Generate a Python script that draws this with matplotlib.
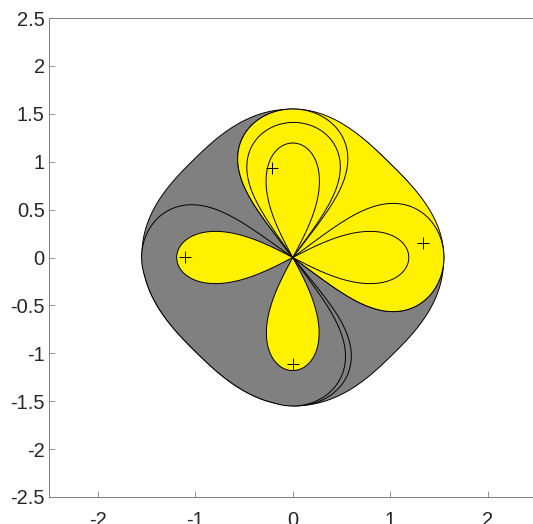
import numpy as np
import matplotlib
matplotlib.use('Agg')
import matplotlib.pyplot as plt

plt.rcParams['font.family'] = ['Liberation Sans', 'DejaVu Sans']
plt.rcParams['axes.unicode_minus'] = False

# === Lobes: direction (deg), length, half-angle at origin (deg), shape exponent ===
big_dir = [90, 0, 180, 270]
big_len = [1.55, 1.55, 1.55, 1.55]
big_half = [37, 37, 36, 36]
big_exp = [0.30, 0.30, 0.30, 0.32]

down_outer = [272, 1.55, 37, 0.30]      # gray lobe peeking on the right of the down side
up_mid = [89.5, 1.41, 35, 0.32]         # middle upper lobe

inner_dir = [90, 0, 180, 270]
inner_len = [1.195, 1.19, 1.19, 1.18]
inner_half = [28, 28, 28, 28]
inner_exp = [0.57, 0.57, 0.57, 0.57]

# === Rounded diamond (superellipse turned by 45 deg): half sizes and exponent ===
gray_a, gray_b, gray_p = 1.40, 1.44, 2.65
yel_a, yel_b, yel_p = 1.40, 1.40, 2.83

# === Markers ===
mark_x = [-0.208, 1.337, -1.108, 0.0]
mark_y = [0.930, 0.149, 0.003, -1.107]

theta = np.linspace(0, 2 * np.pi, 7201)


def lobe_r(d, L, half, m):
    a = np.angle(np.exp(1j * (theta - np.radians(d))))
    b = np.radians(half)
    u = np.clip(1 - (a / b) ** 2, 0, None)
    return np.where(np.abs(a) < b, L * u ** m, 0.0)


def diamond_r(a, b, p):
    psi = theta - np.pi / 4
    return 1.0 / ((np.abs(np.cos(psi)) / a) ** p + (np.abs(np.sin(psi)) / b) ** p) ** (1 / p)


def sector(r, t0, t1):
    t = np.degrees(theta)
    return np.where((t >= t0) & (t <= t1), r, 0.0)


def draw(ax, r, fc):
    ax.fill(r * np.cos(theta), r * np.sin(theta), fc=fc, ec='k', lw=0.7)


gray = '#808080'
yellow = '#fff100'

fig = plt.figure(figsize=(5.33, 5.24), dpi=100)
ax = fig.add_axes([49 / 533, 27 / 524, 487.5 / 533, 479 / 524])

lobes_big = [lobe_r(d, L, h, m) for d, L, h, m in zip(big_dir, big_len, big_half, big_exp)]

# gray outer shape
draw(ax, diamond_r(gray_a, gray_b, gray_p), gray)
draw(ax, lobe_r(*down_outer), gray)
# gray left + down part
g1 = np.maximum.reduce([lobes_big[2], lobes_big[3], sector(diamond_r(gray_a, gray_b, gray_p), 180, 270)])
draw(ax, g1, gray)
# yellow up + right part
y1 = np.maximum.reduce([lobes_big[0], lobes_big[1], sector(diamond_r(yel_a, yel_b, yel_p), 0, 90)])
draw(ax, y1, yellow)
draw(ax, lobes_big[0], yellow)
draw(ax, lobes_big[1], yellow)
draw(ax, lobe_r(*up_mid), yellow)
for d, L, h, m in zip(inner_dir, inner_len, inner_half, inner_exp):
    draw(ax, lobe_r(d, L, h, m), yellow)

ax.plot(mark_x, mark_y, 'k+', ms=8, mew=0.7)

ax.set_xlim(-2.5, 2.5)
ax.set_ylim(-2.5, 2.5)
ax.set_xticks([-2, -1, 0, 1, 2])
ax.set_yticks(np.arange(-2.5, 2.6, 0.5))
ax.set_yticklabels(['-2.5', '-2', '-1.5', '-1', '-0.5', '0', '0.5', '1', '1.5', '2', '2.5'])
ax.tick_params(direction='in', length=4, color='#808080', labelcolor='#262626',
               labelsize=14.5, width=0.6)
ax.tick_params(axis='x', pad=10)
ax.tick_params(axis='y', pad=3)
for s in ax.spines.values():
    s.set_color('#808080')
    s.set_linewidth(0.7)

fig.savefig('out.png', dpi=100)
